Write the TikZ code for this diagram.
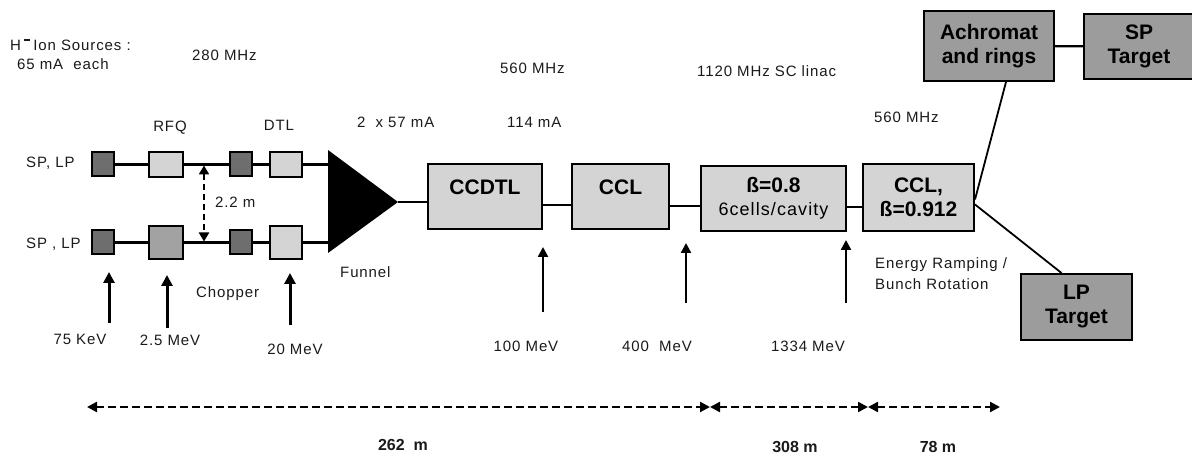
\documentclass[tikz,border=0pt]{standalone}
\usepackage{fontspec}
\setmainfont{Liberation Sans}
\newfontfamily\spaced[LetterSpace=6]{Liberation Sans}
\usetikzlibrary{arrows.meta}
\definecolor{ink}{HTML}{1A1A1A}
\definecolor{lightbox}{HTML}{D4D4D4}
\definecolor{srcgray}{HTML}{6E6E6E}
\definecolor{midgray}{HTML}{A2A2A2}
\definecolor{tgtgray}{HTML}{9C9C9C}
\tikzset{
  box/.style={draw=black, line width=2pt, inner sep=0pt, align=center, text=black,
              font=\bfseries\fontsize{21}{25}\selectfont},
  lin/.style={box, fill=lightbox},
  src/.style={box, fill=srcgray},
  tgt/.style={box, fill=tgtgray},
  txt/.style={inner sep=0pt, text=ink, font=\spaced\fontsize{15}{21}\selectfont},
  beam/.style={line width=2.2pt, black},
  energy/.style={-{Triangle[length=11pt,width=11pt]}, line width=3pt, black},
  energythin/.style={-{Triangle[length=10pt,width=10pt]}, line width=2.3pt, black},
  dim/.style={{Triangle[length=10pt,width=10pt]}-{Triangle[length=10pt,width=10pt]},
              line width=2.3pt, dash pattern=on 8pt off 4pt, black},
}
\newcommand{\rowA}{164.5}
\newcommand{\rowB}{242.5}

\begin{document}
\begin{tikzpicture}[x=1pt,y=-1pt]
\useasboundingbox (0,0) rectangle (1192,454);

% ---------- two injector lines
\node[src, minimum width=22pt, minimum height=24pt] (srcA) at (103,\rowA) {};
\node[lin, minimum width=34pt, minimum height=25pt] (rfqA) at (166,\rowA) {};
\node[src, minimum width=22pt, minimum height=24pt] (chpA) at (241,\rowA) {};
\node[lin, minimum width=32pt, minimum height=25pt] (dtlA) at (286,\rowA) {};

\node[src, minimum width=22pt, minimum height=24pt] (srcB) at (103,\rowB) {};
\node[box, fill=midgray, minimum width=34pt, minimum height=33pt] (rfqB) at (166,\rowB) {};
\node[src, minimum width=22pt, minimum height=24pt] (chpB) at (241,\rowB) {};
\node[lin, minimum width=32pt, minimum height=33pt] (dtlB) at (286,\rowB) {};

% ---------- funnel
\coordinate (fTop) at (328,150);
\coordinate (fBot) at (328,253);
\coordinate (fTip) at (398,202);
\fill[black] (fTop) -- (fTip) -- (fBot) -- cycle;

\draw[beam] (srcA) -- (rfqA) -- (chpA) -- (dtlA) -- (dtlA.east -| fTop);
\draw[beam] (srcB) -- (rfqB) -- (chpB) -- (dtlB) -- (dtlB.east -| fBot);

\coordinate (gapA) at (204,\rowA);
\coordinate (gapB) at (204,\rowB);
\draw[{Triangle[length=9pt,width=10pt]}-{Triangle[length=9pt,width=10pt]}, line width=2.2pt,
      dash pattern=on 6pt off 4pt] ([yshift=-1pt]gapA) -- ([yshift=1pt]gapB);

% ---------- main linac
\node[lin, minimum width=114pt, minimum height=65pt, text depth=19pt] (ccdtl) at (485,196.5) {CCDTL};
\node[lin, minimum width=97pt, minimum height=65pt, text depth=19pt] (ccl) at (620.5,196.5) {CCL};
\node[lin, minimum width=145pt, minimum height=65pt] (beta) at (773.5,198.5)
  {ß=0.8\\[-2pt]{\mdseries\spaced\fontsize{18}{22}\selectfont 6cells/cavity}};
\node[lin, minimum width=111pt, minimum height=67pt] (cclb) at (918.5,197.5) {CCL,\\[-1pt]ß=0.912};

\draw[beam] (fTip) -- (fTip -| ccdtl.west);
\draw[beam] ([yshift=-8.5pt]ccdtl.east) -- ([yshift=-8.5pt]ccl.west);
\draw[beam] ([yshift=-9.5pt]ccl.east) -- ([yshift=-7.5pt]beta.west);
\draw[beam] ([yshift=-8.5pt]beta.east) -- ([yshift=-9.5pt]cclb.west);

% ---------- rings and targets
\node[tgt, minimum width=130pt, minimum height=70pt] (achr) at (989,46) {Achromat\\[-1pt]and rings};
\node[tgt, minimum width=110pt, minimum height=65pt] (sptg) at (1139,46.5) {SP\\[-1pt]Target};
\node[tgt, minimum width=111pt, minimum height=66pt] (lptg) at (1076.5,307) {LP\\[-1pt]Target};

\draw[beam] (achr) -- (sptg);
\draw[line width=1.8pt] ([yshift=-2pt]cclb.east) -- ([xshift=17pt]achr.south);
\draw[line width=1.8pt] ([yshift=-7pt]cclb.east) -- ([xshift=-15pt]lptg.north);

% ---------- labels
\node[txt, anchor=west] (srcs) at (10,45) {H\hspace{3pt}\rule[1.25ex]{0.42em}{0.09em}\hspace{3pt}Ion Sources :};
\node[txt, anchor=west] (each) at (17,64) {65 mA\ \ each};
\node[txt, anchor=west] (f280) at (192,55) {280 MHz};
\node[txt] (lrfq) at (170,128) {RFQ};
\node[txt] (ldtl) at (279,125) {DTL};
\node[txt, anchor=west] (cur2) at (357,122) {2\ \ x 57 mA};
\node[txt, anchor=west] (cur1) at (507,122) {114 mA};
\node[txt, anchor=west] (f560a) at (500,68) {560 MHz};
\node[txt, anchor=west] (f1120) at (697,71) {1120 MHz SC linac};
\node[txt, anchor=west] (f560b) at (874,117) {560 MHz};
\node[txt, anchor=west] (lineA) at (26,163) {SP, LP};
\node[txt, anchor=west] (lineB) at (26,244) {SP , LP};
\node[txt, anchor=west] (gap) at (215,202) {2.2 m};
\node[txt, anchor=west] (funnel) at (340,272) {Funnel};
\node[txt, anchor=west] (chop) at (196,294) {Chopper};
\node[txt, anchor=west, align=left] (ramp) at (875,273.5) {Energy Ramping /\\Bunch Rotation};

% ---------- energies
\foreach \n/\x/\lo/\hi/\lx/\ly/\t/\s in {
    e1/109/323/272/80/339/{75 KeV}/energy,
    e2/167/328/275/170/340/{2.5 MeV}/energy,
    e3/290/325/273/295/349/{20 MeV}/energy,
    e4/543/312/247/526/346/{100 MeV}/energythin,
    e5/686/303/243/657/346/{400\ \ MeV}/energythin,
    e6/846/303/240/808/346/{1334 MeV}/energythin} {
  \coordinate (\n lo) at (\x,\lo);
  \coordinate (\n hi) at (\x,\hi);
  \draw[\s] (\n lo) -- (\n hi);
  \node[txt] (\n) at (\lx,\ly) {\t};
}

% ---------- lengths
\coordinate (d0) at (87,407);
\coordinate (d1) at (710,407);
\coordinate (d2) at (868,407);
\coordinate (d3) at (1000,407);
\draw[dim] (d0) -- (d1);
\draw[dim] (d1) -- (d2);
\draw[dim] (d2) -- (d3);
\node[txt, font=\bfseries\fontsize{16}{18}\selectfont] (len1) at (403,445) {262\ \ m};
\node[txt, font=\bfseries\fontsize{16}{18}\selectfont] (len2) at (795,447) {308 m};
\node[txt, font=\bfseries\fontsize{16}{18}\selectfont] (len3) at (938,447) {78 m};

\end{tikzpicture}
\end{document}
